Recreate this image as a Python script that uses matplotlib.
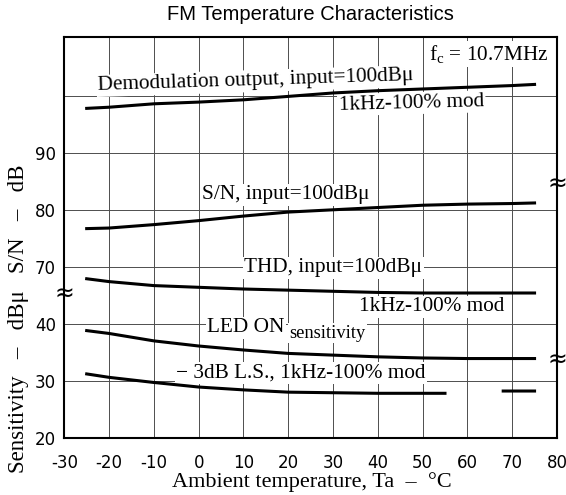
import numpy as np
import matplotlib
matplotlib.use('Agg')
import matplotlib.pyplot as plt

# 데이터
temp = [-25, -20, -10, 0, 10, 20, 30, 40, 50, 60, 70, 75]
demod_out = [97.9, 98.1, 98.7, 99.0, 99.4, 100.0, 100.6, 101.0, 101.3, 101.6, 101.9, 102.1]
sn_ratio = [76.8, 76.9, 77.5, 78.2, 79.0, 79.7, 80.1, 80.5, 80.9, 81.1, 81.2, 81.3]
thd_curve = [68.0, 67.5, 66.8, 66.5, 66.2, 66.0, 65.8, 65.6, 65.5, 65.5, 65.5, 65.5]
led_on = [38.9, 38.4, 37.1, 36.2, 35.5, 34.9, 34.6, 34.3, 34.1, 34.0, 34.0, 34.0]

ls_temp = [-25, -20, -10, 0, 10, 20, 30, 40, 50, 55, 60, 68, 75]
ls_3db = [31.3, 30.7, 29.8, 29.0, 28.5, 28.1, 28.0, 27.9, 27.9, 27.9, np.nan, 28.3, 28.3]

x_ticks = [-30, -20, -10, 0, 10, 20, 30, 40, 50, 60, 70, 80]
y_ticks = [20, 30, 40, 70, 80, 90, 100]
y_tick_labels = ['20', '30', '40', '70', '80', '90', '']

# 70 이상은 축이 끊겨 있으므로 20만큼 내려서 그림
def upper(v):
    return np.asarray(v, dtype=float) - 20

def axis_y(v):
    v = np.asarray(v, dtype=float)
    return np.where(v >= 60, v - 20, v)

serif = 'Liberation Serif'

fig = plt.figure(figsize=(5.66, 4.95), dpi=100)
ax = fig.add_axes([0.1136, 0.1145, 0.984 - 0.1136, 0.925 - 0.1145])

ax.set_xlim(-30, 80)
ax.set_ylim(20, 90.4)
ax.set_xticks(x_ticks)
ax.set_xticklabels([str(t) for t in x_ticks])
ax.set_yticks(axis_y(y_ticks))
ax.set_yticklabels(y_tick_labels)
ax.tick_params(length=0, labelsize=12)
ax.tick_params(axis='x', pad=11)
ax.tick_params(axis='y', pad=6)
ax.grid(True, color='0.3', lw=0.7)
ax.set_axisbelow(True)
for s in ax.spines.values():
    s.set_linewidth(1.5)
    s.set_color('black')

lw = 2.2
ax.plot(temp, upper(demod_out), color='black', lw=lw, zorder=4)
ax.plot(temp, upper(sn_ratio), color='black', lw=lw, zorder=4)
ax.plot(temp, upper(thd_curve), color='black', lw=lw, zorder=4)
ax.plot(temp, led_on, color='black', lw=lw, zorder=4)
ax.plot(ls_temp, ls_3db, color='black', lw=lw, zorder=4)

box = dict(facecolor='white', edgecolor='none', pad=1.0)
fs = 15.3
ax.text(12.8, 82.7, 'Demodulation output, input=100dBμ', family=serif, fontsize=fs,
        ha='center', va='center', rotation=1.8, bbox=box, zorder=3)
ax.text(47.5, 78.8, '1kHz-100% mod', family=serif, fontsize=fs,
        ha='center', va='center', rotation=1.5, bbox=box, zorder=3)
ax.text(78.2, 87.4, r'f$_\mathregular{c}$ = 10.7MHz', family=serif, fontsize=fs,
        ha='right', va='center', bbox=box, zorder=3)
ax.text(19.5, 62.7, 'S/N, input=100dBμ', family=serif, fontsize=fs,
        ha='center', va='center', bbox=box, zorder=3)
ax.text(30.0, 49.9, 'THD, input=100dBμ', family=serif, fontsize=fs,
        ha='center', va='center', bbox=box, zorder=3)
ax.text(52.0, 43.1, '1kHz-100% mod', family=serif, fontsize=fs,
        ha='center', va='center', bbox=box, zorder=3)
ax.text(1.9, 39.4, 'LED ON', family=serif, fontsize=fs,
        ha='left', va='center', bbox=box, zorder=3)
ax.text(20.2, 38.4, 'sensitivity', family=serif, fontsize=fs - 2,
        ha='left', va='center', bbox=box, zorder=3)
ax.text(22.9, 31.5, '− 3dB L.S., 1kHz-100% mod', family=serif, fontsize=fs,
        ha='center', va='center', bbox=box, zorder=3)

# 축 끊김 표시
for xb, yb in [(-30, 45.3), (80, 64.6), (80, 33.7)]:
    ax.text(xb, yb, '≈', fontsize=17, ha='center', va='center',
            clip_on=False, zorder=5)

fig.text(0.548, 0.970, 'FM Temperature Characteristics', family='Liberation Sans',
         fontsize=14.5, ha='center', va='center')
fig.text(0.551, 0.026, 'Ambient temperature, Ta  –  °C', family=serif,
         fontsize=16, ha='center', va='center')
fig.text(0.032, 0.356, 'Sensitivity   –   dBμ   S/N   –   dB', family=serif,
         fontsize=16.5, ha='center', va='center', rotation=90)

fig.savefig('out.png', dpi=100)
